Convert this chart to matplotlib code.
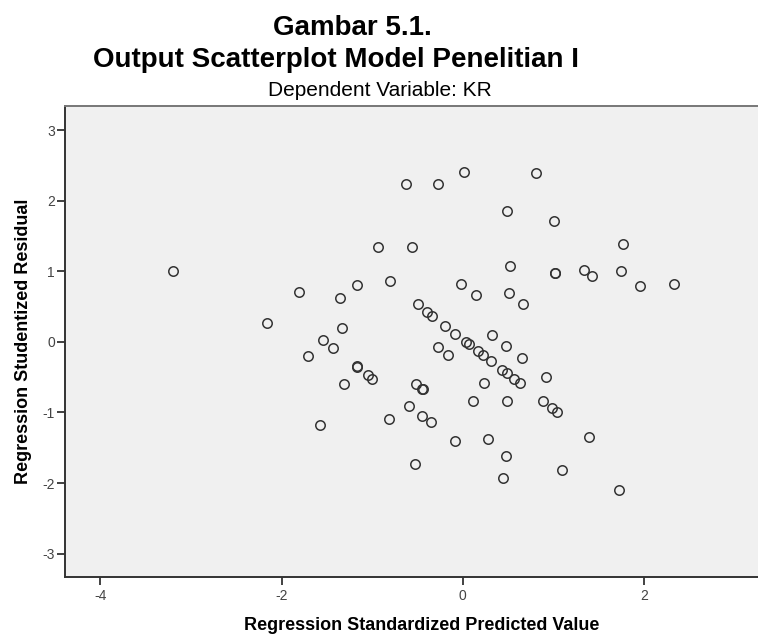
import matplotlib
matplotlib.use("Agg")
import matplotlib.pyplot as plt
import numpy as np

plt.rcParams['font.family'] = ['Liberation Sans', 'DejaVu Sans']
plt.rcParams['axes.unicode_minus'] = False

predicted = [-3.193, -2.162, -1.809, -1.547, -1.436, -1.706, -1.328, -1.352, -1.168,
             -1.171, -1.162, -1.043, -1.002, -1.312, -1.577, -0.811, -0.933, -0.800,
             -0.630, -0.273, 0.018, -0.557, -0.491, -0.398, -0.336, -0.192, -0.082,
             0.036, 0.070, -0.276, -0.159, -0.022, 0.147, 0.324, 0.169, 0.228, 0.318,
             0.478, 0.652, 0.438, 0.484, 0.567, 0.633, 0.924, 0.238, -0.519, -0.446,
             -0.440, -0.590, -0.450, -0.354, 0.116, 0.484, 0.885, 0.981, 1.045, -0.082,
             0.280, 0.482, -0.530, 0.445, 1.092, 1.730, 1.396, 0.515, 0.663, 0.519,
             0.486, 0.807, 1.009, 1.771, 1.020, 1.015, 1.337, 1.429, 1.752, 1.962, 2.335]
residual = [1.004, 0.269, 0.711, 0.028, -0.081, -0.194, 0.198, 0.627, 0.810,
            -0.344, -0.354, -0.467, -0.528, -0.594, -1.178, -1.093, 1.339, 0.859,
            2.231, 2.231, 2.400, 1.339, 0.533, 0.420, 0.364, 0.226, 0.117,
            0.004, -0.028, -0.071, -0.188, 0.820, 0.661, 0.099, -0.134, -0.187, -0.276,
            -0.057, -0.222, -0.396, -0.438, -0.523, -0.587, -0.492, -0.576, -0.598, -0.669,
            -0.665, -0.905, -1.057, -1.136, -0.842, -0.842, -0.835, -0.938, -0.997, -1.400,
            -1.376, -1.617, -1.736, -1.924, -1.810, -2.093, -1.348, 0.689, 0.533, 1.075,
            1.853, 2.386, 1.716, 1.382, 0.969, 0.975, 1.018, 0.929, 1.004, 0.788, 0.816]

xticks = [-4, -2, 0, 2]
yticks = [-3, -2, -1, 0, 1, 2, 3]

fig = plt.figure(figsize=(7.58, 6.35), dpi=100)
ax = fig.add_axes([65/758, 58/635, 1 - 65/758, 471/635])
ax.set_facecolor('#f0f0f0')

ax.plot(predicted, residual, 'o', ms=6.8, mfc='none', mec='#333333', mew=1.1)

ax.set_xlim(-4.39, 3.26)
ax.set_ylim(-3.33, 3.34)
ax.set_xticks(xticks)
ax.set_yticks(yticks)
ax.tick_params(length=5.8, width=1.3, color='#333333', labelsize=10, labelcolor='#444444', pad=1.5)
ax.tick_params(axis='x', pad=3)

for s in ['left', 'bottom']:
    ax.spines[s].set_color('#333333')
    ax.spines[s].set_linewidth(1.4)
ax.spines['top'].set_color('#777777')
ax.spines['top'].set_linewidth(1.4)
ax.spines['right'].set_visible(False)

ax.set_xlabel('Regression Standardized Predicted Value', fontsize=13, fontweight='bold')
ax.xaxis.set_label_coords(0.514, -0.085)
ax.set_ylabel('Regression Studentized Residual', fontsize=13, fontweight='bold')
ax.yaxis.set_label_coords(-0.047, 0.5)

fig.text(352/758, 1 - 35/635, 'Gambar 5.1.', fontsize=20, fontweight='bold', ha='center', va='baseline')
fig.text(336/758, 1 - 67/635, 'Output Scatterplot Model Penelitian I', fontsize=20, fontweight='bold',
         ha='center', va='baseline')
fig.text(380/758, 1 - 96/635, 'Dependent Variable: KR', fontsize=15, ha='center', va='baseline')

fig.savefig('out.png', dpi=100)
